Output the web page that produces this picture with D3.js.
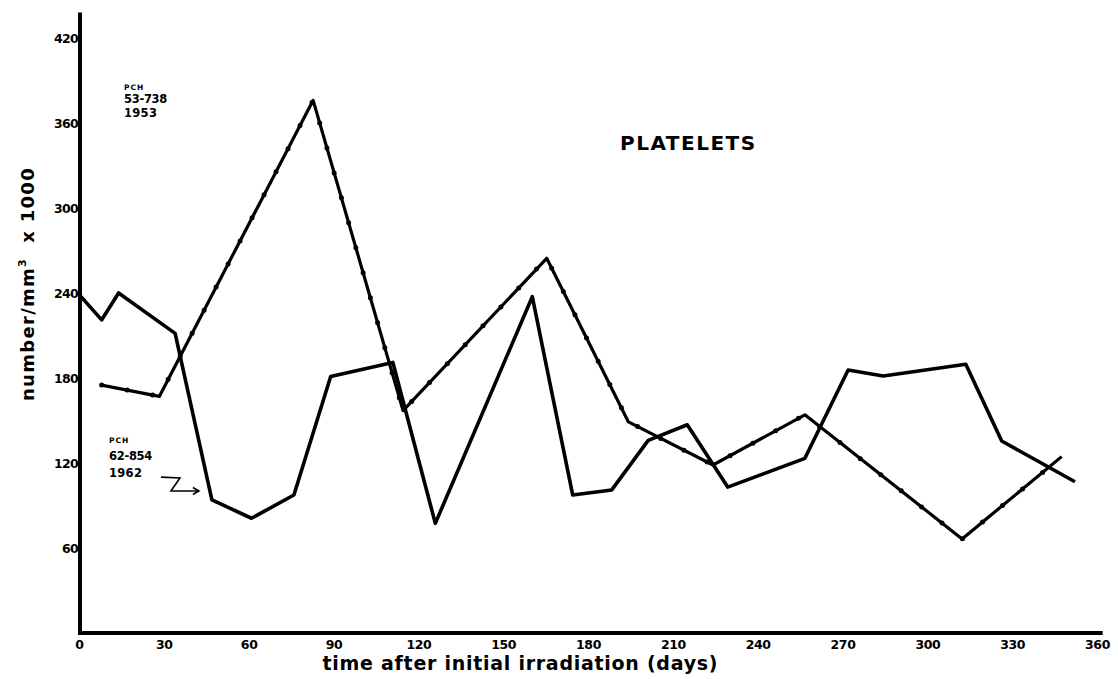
<!DOCTYPE html>
<html>
<head>
<meta charset="utf-8">
<script src="https://cdn.jsdelivr.net/npm/d3@7"></script>
<style>
  body { margin: 0; background: #fff; }
  svg { display: block; }
  text { font-family: 'DejaVu Sans', sans-serif; font-weight: bold; fill: #000; }
</style>
</head>
<body>
<div id="chart"></div>
<script>
// platelet counts, two patients

const width = 1118
const height = 679

// PCH 62-854 (1962) - plain line
const days1962 = [0, 8, 14, 34, 47, 61, 76, 89, 111, 126, 160.3, 174.6, 188.4, 201.3, 215.1, 229.4, 256.7, 272, 284.4, 313.6, 326.3, 352.2]
const platelets1962 = [239, 221, 240, 211.5, 94, 81, 97.4, 181, 191, 77.4, 237.4, 97.4, 101, 136, 147, 103, 123.3, 185.6, 181.4, 189.7, 135.5, 106.8]

// PCH 53-738 (1953) - dotted line
const days1953 = [8, 28.4, 82.8, 114.6, 165.4, 194.3, 224.2, 256.7, 312.3, 347.5]
const platelets1953 = [175, 167, 376, 157, 264.5, 149, 118.6, 154, 66.4, 124.5]

const xTicks = [0, 30, 60, 90, 120, 150, 180, 210, 240, 270, 300, 330, 360]
const yTicks = [60, 120, 180, 240, 300, 360, 420]

// little Z-shaped arrow next to the 1962 label (days, value)
const arrowDays = [29, 35.7, 32.5, 42.4]
const arrowValues = [110, 109.4, 100.2, 100.2]

const x = d3.scaleLinear().domain([0, 360]).range([79, 1097])
const y = d3.scaleLinear().domain([0, 420]).range([633, 38])

const svg = d3.select('#chart').append('svg')
  .attr('width', width)
  .attr('height', height)

// axis lines
svg.append('line')
  .attr('x1', x(0) + 1).attr('x2', x(0) + 1)
  .attr('y1', y(438)).attr('y2', y(0) + 2)
  .attr('stroke', '#000').attr('stroke-width', 4)
svg.append('line')
  .attr('x1', x(0) - 1).attr('x2', x(362))
  .attr('y1', y(0)).attr('y2', y(0))
  .attr('stroke', '#000').attr('stroke-width', 4)

// tick labels
const xg = svg.append('g')
  .attr('transform', 'translate(0,' + y(0) + ')')
  .call(d3.axisBottom(x).tickValues(xTicks).tickSize(0).tickPadding(7))
xg.select('.domain').remove()
xg.selectAll('text')
  .style('font-size', '12.5px')
  .style('font-family', "'DejaVu Sans', sans-serif")
  .style('font-weight', 'bold')
  .style('letter-spacing', '-0.4px')

const yg = svg.append('g')
  .attr('transform', 'translate(' + (x(0) + 1) + ',0)')
  .call(d3.axisLeft(y).tickValues(yTicks).tickSize(0).tickPadding(2))
yg.select('.domain').remove()
yg.selectAll('text')
  .style('font-size', '12.5px')
  .style('font-family', "'DejaVu Sans', sans-serif")
  .style('font-weight', 'bold')
  .style('letter-spacing', '-0.7px')

// lines
const line = d3.line()
  .x(d => x(d[0]))
  .y(d => y(d[1]))

const pts1962 = days1962.map((d, i) => [d, platelets1962[i]])
const pts1953 = days1953.map((d, i) => [d, platelets1953[i]])

svg.append('path')
  .datum(pts1962)
  .attr('d', line)
  .attr('fill', 'none')
  .attr('stroke', '#000')
  .attr('stroke-width', 3.6)
  .attr('stroke-linejoin', 'round')

svg.append('path')
  .datum(pts1953)
  .attr('d', line)
  .attr('fill', 'none')
  .attr('stroke', '#000')
  .attr('stroke-width', 3.2)
  .attr('stroke-linejoin', 'round')

// the beads along the 1953 line
svg.append('path')
  .datum(pts1953)
  .attr('d', line)
  .attr('fill', 'none')
  .attr('stroke', '#000')
  .attr('stroke-width', 5)
  .attr('stroke-linecap', 'round')
  .attr('stroke-dasharray', '0 26')

// arrow
const arrowPts = arrowDays.map((d, i) => [d, arrowValues[i]])
svg.append('path')
  .datum(arrowPts)
  .attr('d', line)
  .attr('fill', 'none')
  .attr('stroke', '#000')
  .attr('stroke-width', 1.6)
const tip = arrowPts[arrowPts.length - 1]
svg.append('path')
  .attr('d', 'M' + (x(tip[0]) - 6) + ',' + (y(tip[1]) - 3.5) + 'L' + x(tip[0]) + ',' + y(tip[1]) + 'L' + (x(tip[0]) - 6) + ',' + (y(tip[1]) + 3.5))
  .attr('fill', 'none')
  .attr('stroke', '#000')
  .attr('stroke-width', 1.6)

// patient labels
const lab1 = svg.append('g').attr('transform', 'translate(124,0)')
lab1.append('text').attr('y', 90).style('font-size', '7.5px').style('letter-spacing', '1px').text('PCH')
lab1.append('text').attr('y', 103).style('font-size', '11.5px').style('letter-spacing', '-0.3px').text('53-738')
lab1.append('text').attr('y', 117).style('font-size', '11.5px').style('letter-spacing', '0.3px').text('1953')

const lab2 = svg.append('g').attr('transform', 'translate(109,0)')
lab2.append('text').attr('y', 443).style('font-size', '7.5px').style('letter-spacing', '1px').text('PCH')
lab2.append('text').attr('y', 460).style('font-size', '11.5px').style('letter-spacing', '-0.3px').text('62-854')
lab2.append('text').attr('y', 477).style('font-size', '11.5px').style('letter-spacing', '0.3px').text('1962')

// title
svg.append('text')
  .attr('x', 620)
  .attr('y', 150)
  .style('font-size', '20px')
  .style('letter-spacing', '1.5px')
  .text('PLATELETS')

// axis titles
svg.append('text')
  .attr('x', 520)
  .attr('y', 670)
  .attr('text-anchor', 'middle')
  .attr('textLength', 395)
  .attr('lengthAdjust', 'spacing')
  .style('font-size', '19px')
  .text('time after initial irradiation (days)')

const yt = svg.append('text')
  .attr('transform', 'translate(34,284) rotate(-90)')
  .attr('text-anchor', 'middle')
  .attr('xml:space', 'preserve')
  .style('font-size', '18px')
  .style('letter-spacing', '1.3px')
yt.append('tspan').text('number/mm')
yt.append('tspan').attr('dy', -8).style('font-size', '11px').text('3')
yt.append('tspan').attr('dy', 8).text('  x 1000')
</script>
</body>
</html>
